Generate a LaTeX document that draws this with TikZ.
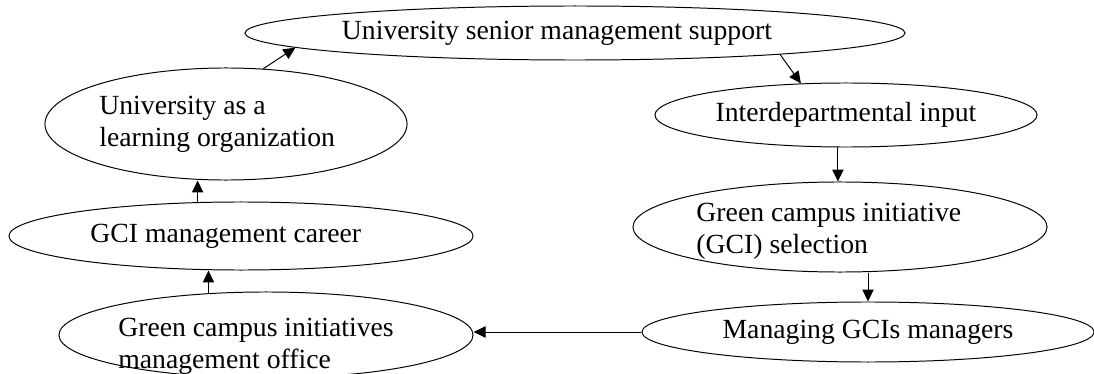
\documentclass[tikz,border=0pt]{standalone}
\usepackage{fontspec}
\setmainfont{Liberation Serif}
\usetikzlibrary{shapes.geometric,arrows.meta}

\begin{document}
\begin{tikzpicture}[x=0.025cm, y=-0.025cm,
		stage/.style={draw, ellipse, inner sep=0pt, line width=0.7pt},
		caption/.style={inner sep=0pt, align=left, font=\fontsize{19.7}{23}\selectfont},
		flow/.style={-{Triangle[length=8.5pt,width=8pt]}, line width=0.7pt}]
	
	\useasboundingbox (0,0) rectangle (1094,374);
	
	%------------------------------------------------
	% Stages
	%------------------------------------------------
	\node[stage, minimum width=16.5cm,  minimum height=1.35cm,
		label={[caption, xshift=-0.45cm]center:University senior management support}] (support) at (575, 33) {};
	\node[stage, minimum width=9.55cm,  minimum height=1.6cm,
		label={[caption]center:Interdepartmental input}] (input) at (846,115) {};
	\node[stage, minimum width=10.35cm, minimum height=2.25cm,
		label={[caption, xshift=-0.28cm, yshift=-0.1cm]center:Green campus initiative\\(GCI) selection}] (selection) at (840,227) {};
	\node[stage, minimum width=11.3cm,  minimum height=1.5cm,
		label={[caption]center:Managing GCIs managers}] (managers) at (868,332) {};
	
	\node[stage, minimum width=10.35cm, minimum height=2.15cm,
		label={[caption, xshift=-0.25cm, yshift=-0.28cm]center:Green campus initiatives\\management office}] (office) at (266,335) {};
	\node[stage, minimum width=11.6cm,  minimum height=1.7cm,
		label={[caption, xshift=-0.38cm]center:GCI management career}] (career) at (241,236) {};
	\node[stage, minimum width=9.05cm,  minimum height=2.8cm,
		label={[caption, xshift=-0.22cm]center:University as a\\learning organization}] (learning) at (226,124) {};
	
	%------------------------------------------------
	% Flow
	%------------------------------------------------
	\draw[flow] (learning.56) -- (support.183);
	\draw[flow] (support.354) -- (input.145);
	\draw[flow] (input.256) -- (input.256 |- selection.north);
	\draw[flow] (selection.south -| managers.north) -- (managers.north);
	\draw[flow] (managers.west) -- (managers.west -| office.east);
	\draw[flow] (office.144) -- (office.144 |- career.south);
	\draw[flow] (career.142) -- (career.142 |- learning.south);
	
\end{tikzpicture}
\end{document}
